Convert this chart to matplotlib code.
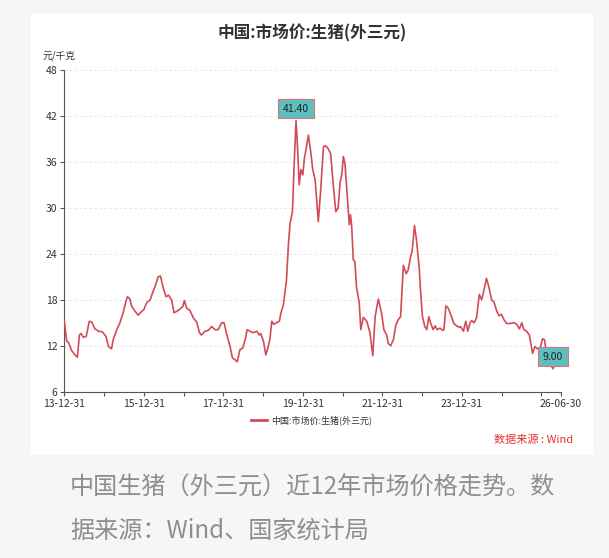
import numpy as np
import pandas as pd
import matplotlib
matplotlib.use("Agg")
import matplotlib.pyplot as plt
from matplotlib.patches import Rectangle
from matplotlib.lines import Line2D

plt.rcParams["font.family"] = ["Noto Sans CJK SC", "DejaVu Sans"]

# weekly-ish price readings, time as decimal year
t_year = [
    2014.00, 2014.06, 2014.11, 2014.18, 2014.27, 2014.33, 2014.38, 2014.42, 2014.48, 2014.55,
    2014.63, 2014.69, 2014.77, 2014.86, 2014.96, 2015.05, 2015.11, 2015.19, 2015.23, 2015.32,
    2015.40, 2015.48, 2015.55, 2015.59, 2015.65, 2015.69, 2015.78, 2015.86, 2015.95, 2016.00,
    2016.07, 2016.16, 2016.22, 2016.28, 2016.36, 2016.42, 2016.49, 2016.56, 2016.62, 2016.70,
    2016.76, 2016.83, 2016.91, 2016.98, 2017.02, 2017.08, 2017.16, 2017.25, 2017.33, 2017.40,
    2017.45, 2017.54, 2017.62, 2017.71, 2017.79, 2017.87, 2017.96, 2018.02, 2018.08, 2018.17,
    2018.23, 2018.29, 2018.35, 2018.42, 2018.49, 2018.55, 2018.60, 2018.67, 2018.75, 2018.84,
    2018.91, 2018.94, 2019.01, 2019.07, 2019.13, 2019.17, 2019.22, 2019.27, 2019.34, 2019.41,
    2019.45, 2019.51, 2019.55, 2019.59, 2019.64, 2019.68, 2019.74, 2019.78, 2019.83, 2019.87,
    2019.91, 2019.95, 2020.00, 2020.04, 2020.08, 2020.14, 2020.20, 2020.25, 2020.31, 2020.39,
    2020.45, 2020.52, 2020.58, 2020.64, 2020.70, 2020.77, 2020.83, 2020.89, 2020.94, 2020.98,
    2021.02, 2021.06, 2021.12, 2021.17, 2021.20, 2021.23, 2021.27, 2021.31, 2021.35, 2021.42,
    2021.46, 2021.52, 2021.61, 2021.69, 2021.76, 2021.82, 2021.90, 2021.98, 2022.04, 2022.11,
    2022.15, 2022.21, 2022.28, 2022.34, 2022.40, 2022.46, 2022.53, 2022.60, 2022.65, 2022.72,
    2022.75, 2022.81, 2022.86, 2022.93, 2022.96, 2023.01, 2023.07, 2023.12, 2023.17, 2023.22,
    2023.28, 2023.33, 2023.38, 2023.45, 2023.52, 2023.55, 2023.60, 2023.66, 2023.74, 2023.80,
    2023.87, 2023.94, 2023.97, 2024.04, 2024.10, 2024.15, 2024.21, 2024.25, 2024.31, 2024.37,
    2024.44, 2024.50, 2024.56, 2024.62, 2024.68, 2024.75, 2024.81, 2024.88, 2024.94, 2025.00,
    2025.06, 2025.13, 2025.21, 2025.31, 2025.38, 2025.45, 2025.51, 2025.56, 2025.63, 2025.70,
    2025.78, 2025.84, 2025.90, 2025.97, 2026.03, 2026.08, 2026.13, 2026.22, 2026.29, 2026.34,
    2026.40,
]
price = [
    15.3, 12.6, 12.4, 11.4, 10.8, 10.5, 13.4, 13.6, 13.1, 13.2,
    15.2, 15.1, 14.2, 13.9, 13.8, 13.2, 11.9, 11.6, 12.8, 14.1,
    15.0, 16.3, 17.8, 18.4, 18.1, 17.2, 16.5, 16.0, 16.5, 16.7,
    17.6, 18.0, 18.9, 19.7, 21.0, 21.1, 19.5, 18.4, 18.6, 18.0,
    16.3, 16.5, 16.8, 17.1, 17.9, 16.9, 16.6, 15.6, 15.1, 13.7,
    13.4, 13.9, 14.0, 14.5, 14.1, 14.1, 15.0, 15.0, 13.6, 11.9,
    10.4, 10.2, 9.9, 11.5, 11.7, 12.8, 14.1, 13.9, 13.7, 13.9,
    13.4, 13.6, 12.6, 10.8, 11.9, 12.8, 15.2, 14.8, 15.0, 15.2,
    16.3, 17.3, 18.9, 20.6, 25.4, 28.0, 29.5, 35.4, 41.4, 37.6,
    33.0, 35.0, 34.3, 36.5, 37.6, 39.5, 37.3, 35.0, 33.7, 28.2,
    32.3, 38.0, 38.1, 37.7, 37.1, 32.8, 29.5, 30.0, 33.4, 34.3,
    36.7, 35.8, 31.5, 27.8, 29.1, 27.6, 23.2, 23.0, 19.7, 17.6,
    14.1, 15.7, 15.2, 13.7, 10.7, 15.8, 18.1, 16.3, 14.1, 13.4,
    12.3, 12.0, 12.8, 14.7, 15.4, 15.8, 22.5, 21.4, 21.9, 23.8,
    24.3, 27.7, 25.8, 22.1, 19.3, 15.8, 14.5, 14.1, 15.8, 14.9,
    14.1, 14.6, 14.1, 14.3, 14.0, 14.1, 17.2, 16.9, 15.8, 14.9,
    14.6, 14.4, 14.5, 13.9, 15.2, 13.9, 15.0, 15.3, 15.0, 15.6,
    18.7, 18.0, 19.3, 20.8, 19.7, 18.0, 17.7, 16.5, 15.9, 16.1,
    15.4, 14.9, 14.9, 15.0, 14.8, 14.2, 15.0, 14.1, 13.9, 13.4,
    11.0, 11.9, 11.6, 11.7, 12.9, 12.8, 11.0, 9.7, 9.0, 9.5,
    9.7,
]

y_ticks = [6, 12, 18, 24, 30, 36, 42, 48]
x_tick_dates = ["2013-12-31", "2014-12-31", "2015-12-31", "2016-12-31", "2017-12-31",
                "2018-12-31", "2019-12-31", "2020-12-31", "2021-12-31", "2022-12-31",
                "2023-12-31", "2024-12-31", "2025-12-31", "2026-06-30"]
x_tick_labels = ["13-12-31", "", "15-12-31", "", "17-12-31", "", "19-12-31", "",
                 "21-12-31", "", "23-12-31", "", "", "26-06-30"]

series_name = "中国:市场价:生猪(外三元)"
line_color = "#d24b57"
box_color = "#5fbfbe"

t_year = np.array(t_year)
price = np.array(price)
dates = pd.Timestamp("2013-12-31") + pd.to_timedelta((t_year - 2014.0) * 365.25, unit="D")

fig = plt.figure(figsize=(6.09, 5.58), dpi=100, facecolor="#f5f7f7")

# white card behind the chart
fig.patches.append(Rectangle((31 / 609, 1 - 455 / 558), 562 / 609, 441 / 558,
                             transform=fig.transFigure, facecolor="white",
                             edgecolor="none", zorder=-5))

ax = fig.add_axes([64.3 / 609, 1 - 391.7 / 558, 496.7 / 609, 321.7 / 558])
ax.set_facecolor("none")
ax.set_zorder(2)

ax.plot(dates, price, color=line_color, linewidth=1.2, zorder=3)

ax.set_ylim(6, 48)
ax.set_yticks(y_ticks)
ax.set_xlim(pd.Timestamp("2013-12-31"), pd.Timestamp("2026-06-30"))
ax.set_xticks(pd.to_datetime(x_tick_dates))
ax.set_xticklabels(x_tick_labels)

for s in ["top", "right"]:
    ax.spines[s].set_visible(False)
for s in ["left", "bottom"]:
    ax.spines[s].set_color("#555555")
    ax.spines[s].set_linewidth(0.8)

ax.tick_params(axis="both", colors="#555555", labelcolor="#333333",
               length=3, width=0.8, labelsize=7.5, pad=2)
ax.yaxis.grid(True, linestyle=(0, (3, 3)), color="#e2e2e2", linewidth=0.6)
ax.set_axisbelow(True)

# max / min mark labels
for idx in [int(np.argmax(price)), int(np.argmin(price))]:
    ax.annotate(f"{price[idx]:.2f}", xy=(dates[idx], price[idx]),
                xytext=(0, 12), textcoords="offset pixels",
                ha="center", va="center", fontsize=7.5, color="#222222",
                bbox=dict(boxstyle="square,pad=0.45", facecolor=box_color,
                          edgecolor="#d9737b", linewidth=0.8),
                zorder=5)

fig.text(312 / 609, 1 - 33 / 558, series_name, ha="center", va="center",
         fontsize=12, fontweight="bold", color="#333333")
fig.text(43 / 609, 1 - 56 / 558, "元/千克", ha="left", va="center",
         fontsize=7, color="#333333")

handle = Line2D([], [], color=line_color, linewidth=2)
fig.legend([handle], [series_name], loc="center",
           bbox_to_anchor=(311.5 / 609, 1 - 420.7 / 558), frameon=False,
           fontsize=6.5, handlelength=1.8, handletextpad=0.5,
           labelcolor="#333333")

fig.text(573 / 609, 1 - 440 / 558, "数据来源 : Wind", ha="right", va="center",
         fontsize=8, color="#e8302f")

caption_color = "#8e8e8e"
fig.text(70 / 609, 1 - 488 / 558, "中国生猪（外三元）近12年市场价格走势。数",
         ha="left", va="center", fontsize=17.4, color=caption_color)
fig.text(70 / 609, 1 - 531 / 558, "据来源：Wind、国家统计局",
         ha="left", va="center", fontsize=17.4, color=caption_color)

fig.savefig("out.png", dpi=100, facecolor=fig.get_facecolor())
